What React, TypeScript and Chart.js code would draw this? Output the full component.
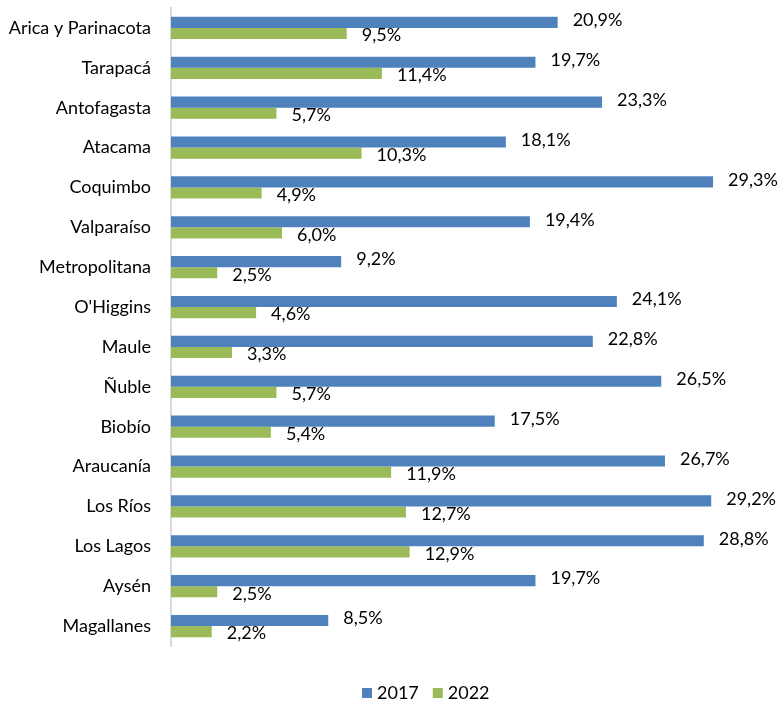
import React, { useEffect, useRef } from "react";
import { Chart, registerables } from "chart.js";

Chart.register(...registerables);

const categories = [
  "Arica y Parinacota", "Tarapacá", "Antofagasta", "Atacama", "Coquimbo", "Valparaíso",
  "Metropolitana", "O'Higgins", "Maule", "Ñuble", "Biobío", "Araucanía", "Los Ríos",
  "Los Lagos", "Aysén", "Magallanes",
];
const series2017 = [20.9, 19.7, 23.3, 18.1, 29.3, 19.4, 9.2, 24.1, 22.8, 26.5, 17.5, 26.7, 29.2, 28.8, 19.7, 8.5];
const series2022 = [9.5, 11.4, 5.7, 10.3, 4.9, 6.0, 2.5, 4.6, 3.3, 5.7, 5.4, 11.9, 12.7, 12.9, 2.5, 2.2];
const seriesNames = ["2017", "2022"];
const colors = ["#4F81BD", "#9BBB59"];

const FONT = "Lato, 'Open Sans', sans-serif";
const FONT_SIZE = 18;

const fmt = (v: number) => v.toFixed(1).replace(".", ",") + "%";

const labelPlugin = {
  id: "barLabels",
  afterDatasetsDraw(chart: any) {
    const ctx = chart.ctx;
    ctx.save();
    ctx.font = `${FONT_SIZE}px ${FONT}`;
    ctx.fillStyle = "#000";
    ctx.textBaseline = "middle";
    ctx.textAlign = "left";
    chart.data.datasets.forEach((ds: any, di: number) => {
      const meta = chart.getDatasetMeta(di);
      meta.data.forEach((bar: any, i: number) => {
        const dy = di === 0 ? -2 : 2;
        ctx.fillText(fmt(ds.data[i]), bar.x + 15, bar.y + dy);
      });
    });
    // legend
    const cy = 693;
    let x = 362;
    seriesNames.forEach((name, i) => {
      ctx.fillStyle = colors[i];
      ctx.fillRect(x, cy - 5, 10, 10);
      ctx.fillStyle = "#000";
      ctx.fillText(name, x + 15, cy);
      x += 15 + ctx.measureText(name).width + 14;
    });
    ctx.restore();
  },
};

export default function App() {
  const ref = useRef<HTMLCanvasElement | null>(null);
  useEffect(() => {
    if (!ref.current) return;
    const chart = new Chart(ref.current, {
      type: "bar",
      data: {
        labels: categories,
        datasets: [
          { label: seriesNames[0], data: series2017, backgroundColor: colors[0], categoryPercentage: 0.56, barPercentage: 1 },
          { label: seriesNames[1], data: series2022, backgroundColor: colors[1], categoryPercentage: 0.56, barPercentage: 1 },
        ],
      },
      options: {
        indexAxis: "y",
        animation: false,
        responsive: false,
        maintainAspectRatio: false,
        layout: { padding: { top: 8, right: 55, bottom: 56, left: 0 } },
        plugins: { legend: { display: false }, tooltip: { enabled: false } },
        scales: {
          x: { display: false, min: 0, max: 30 },
          y: {
            afterFit: (s: any) => { s.width = 171; s.paddingTop = 0; s.paddingBottom = 0; },
            grid: { display: false, drawTicks: false },
            border: { display: true, color: "#d9d9d9", width: 2 },
            ticks: { padding: 20, color: "#000", font: { family: FONT, size: FONT_SIZE } },
          },
        },
      },
      plugins: [labelPlugin],
    });
    return () => chart.destroy();
  }, []);
  return (
    <div style={{ position: "absolute", left: 0, top: 0, width: 781, height: 702 }}>
      <canvas ref={ref} width={781} height={702} style={{ width: 781, height: 702 }} />
    </div>
  );
}
